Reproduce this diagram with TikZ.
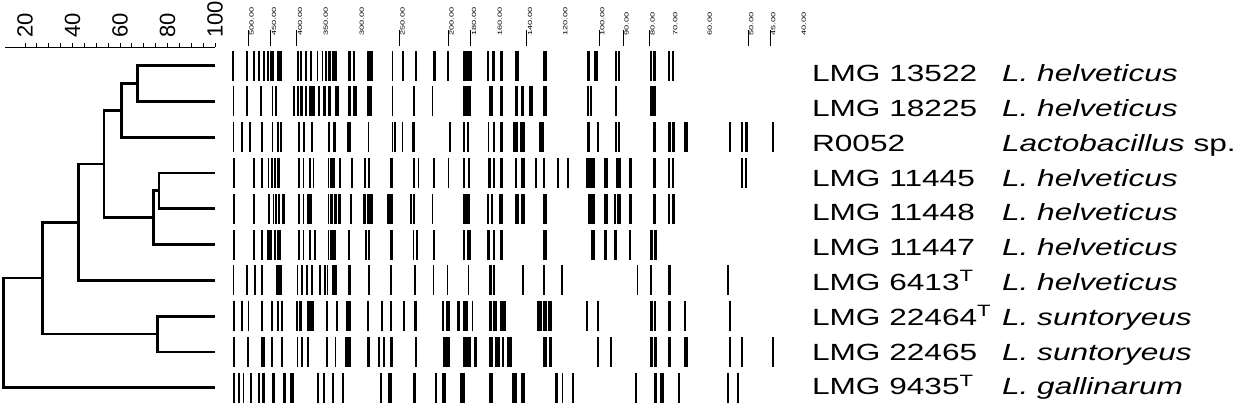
\documentclass[tikz,border=0pt]{standalone}
\usepackage{fontspec}
\setmainfont{Liberation Sans}
\usepackage{graphicx}
\usetikzlibrary{positioning, calc}

\newcommand{\wide}[1]{\scalebox{1.35}[1]{#1}}
\newcommand{\slim}[1]{\scalebox{1}[0.65]{#1}}
% one lane of the gel: #1 = centre, #2 = list of left edge/width
\newcommand{\lanebands}[2]{%
  \foreach \bx/\bw in {#2} \fill (\bx,{#1-15}) rectangle ++(\bw,30);}

\begin{document}
\begin{tikzpicture}[
    x=0.5pt, y=-0.5pt,
    branch/.style={line width=1.4pt, line join=miter},
    strain/.style={anchor=base west, inner sep=0pt, font=\fontsize{11.7}{14}\selectfont},
    species/.style={strain, font=\fontsize{11.7}{14}\selectfont\itshape},
    scalelabel/.style={rotate=90, anchor=west, inner sep=0pt, font=\fontsize{11}{13}\selectfont},
    marker/.style={rotate=90, anchor=north west, inner sep=0pt, font=\fontsize{4.6}{5}\selectfont}
]
    \useasboundingbox (0,0) rectangle (1243,414);

    % Similarity scale
    \draw[line width=0.5pt] (5,47) -- (215,47);
    \foreach \v in {20,25,...,100}
        \draw[line width=0.5pt] ({25+(\v-20)*2.375},47) -- ++(0,-4);
    \foreach \v in {20,40,60,80,100}
        \node[scalelabel] (scale\v) at ({25+(\v-20)*2.375},38) {\v};

    % Leaves and branch points
    \foreach \i in {1,...,10}
        \coordinate (l\i) at (215,{65.5+35.8*(\i-1)});
    \coordinate (nA) at (137.3,83.4);
    \coordinate (nB) at (121.7,110.25);
    \coordinate (nC) at (159,190.8);
    \coordinate (nD) at (153.3,217.65);
    \coordinate (nE) at (104,163.95);
    \coordinate (nF) at (78.3,222.1);
    \coordinate (nG) at (157.3,334);
    \coordinate (nH) at (42.3,278.05);
    \coordinate (root) at (3.8,332.9);

    % Dendrogram
    \draw[branch] (l1) -| (nA) |- (l2);
    \draw[branch] (nA) -| (nB) |- (l3);
    \draw[branch] (l4) -| (nC) |- (l5);
    \draw[branch] (nC) -| (nD) |- (l6);
    \draw[branch] (nB) -| (nE) |- (nD);
    \draw[branch] (nE) -| (nF) |- (l7);
    \draw[branch] (l8) -| (nG) |- (l9);
    \draw[branch] (nF) -| (nH) |- (nG);
    \draw[branch] (nH) -| (root) |- (l10);

    % Size markers (bp)
    \foreach \x/\m in {248.3/500.00, 270.7/450.00, 296.7/400.00, 322.5/350.00,
        358.5/300.00, 399.3/250.00, 448.3/200.00, 470.7/180.00, 496.5/160.00,
        526.7/140.00, 562/120.00, 599/100.00, 623.3/90.00, 649.3/80.00,
        672/70.00, 706.5/60.00, 748/50.00, 770/45.00, 800.5/40.00}
        \node[marker] (m\m) at (\x+0.8,36) {\slim{\m}};
    \foreach \x in {248.3,270.7,296.7,399.3,448.3,470.7,526.7,599,623.3,649.3,748,770}
        \draw[line width=0.5pt] (\x,30) -- (\x,46);

    % Fingerprint lanes
    \lanebands{65.5}{232/1.7, 246/1.7, 253/1.7, 258/1.7, 263/1.7, 267/1.7, 270/1.7,
        272.3/1.7, 276.7/5, 297.3/1.7, 300/1.7, 305/1.7, 310/1.7, 316.7/1.7, 321.7/1.7,
        325/1.7, 328.3/2.5, 331.7/5, 348.3/2.3, 352.7/2, 366.7/6.6, 391.7/1.7,
        401.7/2.3, 415/2.3, 433.3/2.6, 446.7/2.6, 463.3/8.4, 486.7/2.6, 491.7/3.3,
        500/3.3, 515/4.3, 543.3/4, 586.7/3.3, 594/4.3, 615/1.7, 618.3/1.7, 650/1.7,
        653.3/2.4, 668.3/1.7, 671.7/2.3}
    \lanebands{101.3}{232.7/1.7, 246/1.7, 260/1.7, 271.7/1.7, 275/2.3, 293.3/1.7,
        297.3/1.7, 300/2.7, 305/2.3, 309.3/5.7, 318.3/1.7, 323.3/2.7, 328.3/2.4,
        335/4.3, 348.3/2.3, 353.3/3.4, 366.7/5, 391.7/1.7, 413.3/1.7, 431.7/1.7,
        463.3/7.4, 489.3/3.4, 500/3.3, 515/3.3, 520.7/3.3, 529.3/4, 543.3/4,
        586.7/2, 590/1.7, 615/1.7, 650/2.7, 653.3/2.4}
    \lanebands{137.1}{232.7/1.7, 241.3/1.7, 249.3/1.7, 261/1.7, 271.7/1.7, 277/1.7,
        280/2, 298.3/1.7, 302.7/2.3, 310.8/1.7, 327.8/2.3, 333/3.3, 346.7/4,
        367.5/1.7, 391.7/1.7, 394.2/1.7, 401.7/1.7, 412.3/2.7, 449.2/1.7, 463.3/1.7,
        467.3/2, 487.5/1.7, 492.8/2.3, 500/3.3, 513.3/5, 520/5, 539.3/5, 586.7/3.3,
        596.7/2.3, 615/1.7, 618.3/1.7, 652.7/3.3, 668.3/2.4, 671.7/3.3, 684.3/4,
        729/2.3, 740.7/2.6, 745/3.3, 771.7/2.3}
    \lanebands{172.9}{233/1.7, 253/1.7, 260.8/1.7, 267.5/1.7, 270.8/1.7, 274.2/1.7,
        277/3, 298.3/1.7, 302.5/1.7, 309.2/1.7, 312.5/1.7, 327.5/1.7, 330/5,
        339.2/1.7, 350.8/2, 364/2, 367.5/2.5, 390/2.7, 413.3/2, 417.5/1.7, 433.3/2,
        447.5/1.7, 463.3/1.7, 467.5/2.6, 488.3/2.4, 492.7/2.3, 500/3.3, 515/2.3,
        520.7/4.3, 535/1.7, 543.3/1.7, 557.3/1.7, 567.3/1.4, 586/9, 604/4.3,
        616/4.7, 629.3/2.4, 652.7/3.3, 668.3/1.7, 672/2, 741.3/2, 745/2.3}
    \lanebands{208.7}{233/1.7, 253/1.7, 268.3/1.7, 272.5/1.7, 275/1.7, 278/2, 282/3,
        298.3/1.7, 302.5/1.7, 307/4.7, 327.5/1.7, 330/2.7, 334/2.7, 338.3/2.4,
        350/1.7, 363.3/2.7, 366.7/6, 387/5.7, 410/1.7, 413.3/1.7, 431.7/1.7,
        463.3/6.7, 486.7/2.6, 490.7/2.6, 499.3/4, 515/4.3, 520.7/4.3, 542.7/4.6,
        588.3/6.7, 604/4.3, 614/2, 617.3/3.4, 629.3/2.4, 652.7/3.3, 668.3/1.7, 672/3}
    \lanebands{244.5}{233/1.7, 253.3/2, 260.8/1.7, 266.7/5, 274.2/1.7, 276.7/1.7,
        278.3/2.4, 298.3/1.7, 302.5/1.7, 309.2/1.7, 314.3/2, 327.5/1.7, 330/6,
        348/1.7, 365/1.7, 368.3/1.7, 390/2.7, 412.5/1.7, 415.8/1.7, 433.3/1.7,
        463.3/1.7, 466.7/4, 486.7/3.3, 492.7/2.3, 500/3.3, 543.3/4, 590.7/4.3,
        604/2.7, 614/3.3, 629.3/2, 650/3.3, 654/2.7}
    \lanebands{280.3}{232.7/1.7, 245.8/1.7, 254.2/1.7, 260.8/1.7, 276/5.7, 296.7/1.7,
        300.8/1.7, 306/1.7, 310.8/1.7, 319/1.7, 324.2/1.7, 326.7/1.7, 331.7/5,
        348.3/2.4, 368.3/1.7, 390/2, 414/2, 432.5/1.7, 446.7/1.7, 467.5/1.7,
        489.3/2.4, 492.7/2.3, 521.7/2.3, 543.3/1.7, 561/1.7, 636.7/1.7, 650/2,
        668.3/2.4, 727.3/2}
    \lanebands{316.1}{233/1.7, 240.8/1.7, 247.5/1.7, 260.8/1.7, 271/1.7, 277.3/2,
        280.8/1.7, 296/2.3, 299.3/2.4, 307.3/6.7, 325.8/1.7, 335.8/1.7, 345.8/1.7,
        348.3/2.4, 366.7/2.6, 380.7/2, 390/1.7, 403.3/1.7, 414.3/2.4, 441.7/2.3,
        446/4, 457.3/2.7, 462.7/5.6, 471.7/1.7, 489.3/2.4, 492.7/4, 500/6,
        537.3/4.4, 543.3/3.4, 548.3/3.4, 586/2.3, 596.7/2, 650/2.7, 654/2,
        668.3/2.4, 684.3/1.7, 729.3/2}
    \lanebands{351.9}{233/1.7, 247.3/2, 260.8/1.7, 263.3/1.7, 271/1.7, 280.8/1.7,
        296.7/1.7, 300.8/1.7, 306.7/2.6, 325.8/1.7, 334.7/1.7, 345/5.7, 366.7/3.3,
        378.3/1.7, 382.7/2.3, 390/3.3, 415/1.7, 442.7/7.3, 462.7/4, 467.3/3.4,
        474/2.7, 489.3/4, 495/5, 501.7/2.3, 507.3/4.4, 543.3/4, 549.3/2.4,
        596.7/2, 610/2, 650/2.7, 654/2.7, 668.3/2.4, 684.3/4, 729.3/2, 740.7/2.6,
        771.7/2.3}
    \lanebands{387.7}{233/1.7, 238.3/1.7, 242.7/1.4, 250/1.7, 258.3/1.7, 261.7/3.3,
        271.7/3.3, 282.7/3.3, 290/4, 316.7/2, 323.3/2, 331.7/2.3, 341.7/2.3,
        380/2.3, 388.3/3.4, 413.3/2.7, 435/2.3, 441.7/4.3, 460/5, 489.3/4,
        511.7/5, 520.7/4.3, 555/3.3, 561.7/1.7, 571.7/2.3, 635/1.7, 654/2.7,
        660/4, 678.3/1.7, 727.3/2, 737.3/2}

    % Strain names and species
    \foreach \s/\sp [count=\i] in {LMG 13522/L. helveticus, LMG 18225/L. helveticus,
        R0052/Lactobacillus\upshape{} sp., LMG 11445/L. helveticus,
        LMG 11448/L. helveticus, LMG 11447/L. helveticus,
        LMG 6413\textsuperscript{T}/L. helveticus,
        LMG 22464\textsuperscript{T}/L. suntoryeus, LMG 22465/L. suntoryeus,
        LMG 9435\textsuperscript{T}/L. gallinarum} {
        \node[strain] (strain\i) at (811.7,{81.7+34.8*(\i-1)}) {\wide{\s}};
        \node[species] (species\i) at (1001.7,{81.7+34.8*(\i-1)}) {\wide{\sp}};
    }
\end{tikzpicture}
\end{document}
